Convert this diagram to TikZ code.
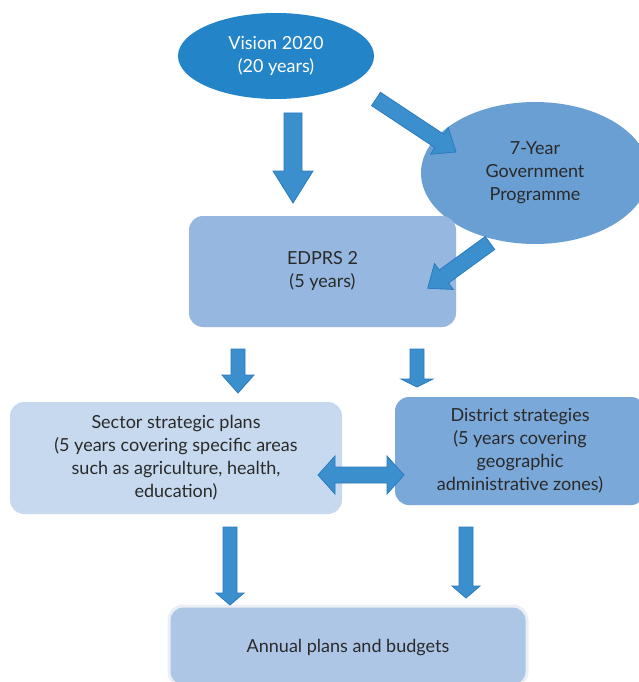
\documentclass[tikz,border=0pt]{standalone}
\usepackage{fontspec}
\setmainfont{Lato}
\usetikzlibrary{shapes.geometric}
\definecolor{cvision}{HTML}{2385C7}
\definecolor{cseven}{HTML}{6A9FD3}
\definecolor{cedprs}{HTML}{95B7E0}
\definecolor{csector}{HTML}{C6D9EF}
\definecolor{cdistrict}{HTML}{7AA8D8}
\definecolor{cannual}{HTML}{ADC6E6}
\definecolor{cannualrim}{HTML}{EBEFF4}
\definecolor{carrow}{HTML}{3B8FCD}
\definecolor{carrowline}{HTML}{2A7BBF}
\definecolor{ctext}{HTML}{2A2A2A}
\tikzset{
  oval/.style={ellipse, inner sep=0pt, align=center, font=\fontsize{18}{23}\selectfont},
  box/.style={rounded corners=14pt, inner sep=0pt, align=center, text=ctext, font=\fontsize{18}{23}\selectfont},
  blockarrow/.style={fill=carrow, draw=carrowline, line width=0.8pt, line join=miter}
}
% #1 x, #2 y, #3 angle, #4 length, #5 shaft half, #6 head half, #7 head length
\newcommand{\blkarrow}[7]{%
  \begin{scope}[shift={(#1,#2)},rotate=#3]
    \filldraw[blockarrow] (0,-#5) -- ({#4-#7},-#5) -- ({#4-#7},-#6) -- (#4,0) -- ({#4-#7},#6) -- ({#4-#7},#5) -- (0,#5) -- cycle;
  \end{scope}}
\begin{document}
\begin{tikzpicture}[x=1pt,y=-1pt]
\useasboundingbox (0,0) rectangle (639,682);
\clip (0,0) rectangle (639,682);
\fill[white] (0,0) rectangle (639,682);
% nodes
\node[oval, fill=cvision, text=white, minimum width=196pt, minimum height=86pt] (vision) at (276,56) {Vision 2020\\(20 years)};
\node[oval, fill=cseven, text=ctext, minimum width=228pt, minimum height=142pt] (seven) at (535,173) {7-Year\\Government\\Programme};
\node[box, fill=cedprs, minimum width=267pt, minimum height=111pt] (edprs) at (322.5,271.5) {EDPRS 2\\(5 years)};
\node[box, fill=csector, minimum width=332pt, minimum height=112pt] (sector) at (176,458) {Sector strategic plans\\(5 years covering specific areas\\such as agriculture, health,\\education)};
\node[box, fill=cdistrict, minimum width=250pt, minimum height=108pt] (district) at (520,451) {District strategies\\(5 years covering\\geographic\\administrative zones)};
\node[box, fill=cannual, draw=cannualrim, line width=3pt, minimum width=358pt, minimum height=80pt, text depth=0pt] (annual) at (348,646) {Annual plans and budgets};
% block arrows
\blkarrow{293}{113}{-90}{90}{9}{20}{32}
\blkarrow{376}{99}{-33.5}{96}{8}{16}{20}
\blkarrow{490}{243}{-144}{77}{8}{16}{20}
\blkarrow{238}{349}{-90}{44}{7}{16}{18}
\blkarrow{417}{349}{-90}{38}{7}{16}{8}
\blkarrow{230}{527}{-90}{78}{7}{14}{12}
\blkarrow{466}{527}{-90}{71}{7}{14}{12}
% double arrow
\filldraw[blockarrow] (318,475) -- (335,456) -- (335,467) -- (387,467) -- (387,456) -- (404,475) -- (387,494) -- (387,483) -- (335,483) -- (335,494) -- cycle;
\end{tikzpicture}
\end{document}
